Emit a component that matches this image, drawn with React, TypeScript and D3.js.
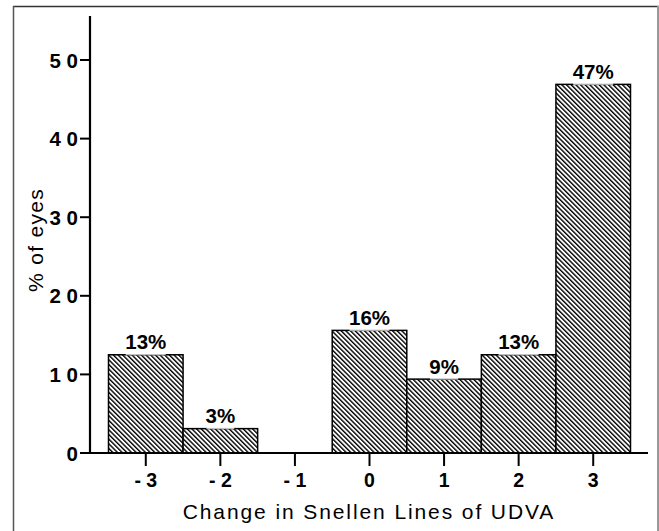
import React from "react";
import * as d3 from "d3";

const categories = ["-3", "-2", "-1", "0", "1", "2", "3"];
const tickLabels = ["- 3", "- 2", "- 1", "0", "1", "2", "3"];
const values = [12.5, 3.1, 0, 15.6, 9.4, 12.5, 46.9];
const valueLabels = ["13%", "3%", "", "16%", "9%", "13%", "47%"];
const yTicks = [0, 10, 20, 30, 40, 50];
const yTickLabels = ["0", "1 0", "2 0", "3 0", "4 0", "5 0"];

const W = 659;
const H = 531;
const FONT = "'Liberation Sans', Arial, Helvetica, sans-serif";

export default function App() {
  const axisX = 90;
  const axisY = 453;
  const axisTop = 16;
  const axisRight = 648;

  const y = d3.scaleLinear().domain([0, 55.6]).range([axisY, axisTop]);
  const x = d3.scaleBand<string>().domain(categories).range([108.5, 630.5]).padding(0);

  const labelW = (s: string) => s.length * 12 + 4;

  return (
    <svg
      width={W}
      height={H}
      viewBox={`0 0 ${W} ${H}`}
      style={{ position: "absolute", left: 0, top: 0, background: "#fff" }}
    >
      <defs>
        <pattern
          id="hatch"
          patternUnits="userSpaceOnUse"
          width={3.3}
          height={10}
          patternTransform="rotate(-45)"
        >
          <rect x={0} y={0} width={3.3} height={10} fill="#fff" />
          <line x1={0.7} y1={0} x2={0.7} y2={10} stroke="#000" strokeWidth={1.4} />
        </pattern>
      </defs>
      <rect x={0} y={0} width={W} height={H} fill="#fff" />

      {/* frame */}
      <line x1={13} y1={6.5} x2={659} y2={6.5} stroke="#333" strokeWidth={1.5} />
      <line x1={13.5} y1={6} x2={13.5} y2={531} stroke="#555" strokeWidth={1.5} />
      <line x1={658} y1={6} x2={658} y2={531} stroke="#999" strokeWidth={2} />

      {/* bars */}
      {categories.map((c, i) =>
        values[i] > 0 ? (
          <rect
            key={c}
            x={x(c)!}
            y={y(values[i])}
            width={x.bandwidth()}
            height={axisY - y(values[i])}
            fill="url(#hatch)"
            stroke="#000"
            strokeWidth={1.5}
          />
        ) : null
      )}

      {/* value labels */}
      {categories.map((c, i) =>
        valueLabels[i] ? (
          <g key={"l" + c}>
            <rect
              x={x(c)! + x.bandwidth() / 2 - labelW(valueLabels[i]) / 2}
              y={y(values[i]) - 21}
              width={labelW(valueLabels[i])}
              height={21.5}
              fill="#fff"
              opacity={0.75}
            />
            <text
              x={x(c)! + x.bandwidth() / 2}
              y={y(values[i]) - 5.5}
              textAnchor="middle"
              fontFamily={FONT}
              fontWeight="bold"
              fontSize={20.5}
              fill="#000"
            >
              {valueLabels[i]}
            </text>
          </g>
        ) : null
      )}

      {/* y axis */}
      <line x1={axisX} y1={axisTop} x2={axisX} y2={axisY + 1} stroke="#000" strokeWidth={2.2} />
      {yTicks.map((t, i) => (
        <g key={"yt" + t}>
          <line x1={axisX - 10} y1={y(t)} x2={axisX} y2={y(t)} stroke="#000" strokeWidth={2} />
          <text
            x={axisX - 12}
            y={y(t) + 7.5}
            textAnchor="end"
            fontFamily={FONT}
            fontWeight="bold"
            fontSize={20.5}
            fill="#000"
          >
            {yTickLabels[i]}
          </text>
        </g>
      ))}

      {/* x axis */}
      <line x1={axisX - 1} y1={axisY} x2={axisRight} y2={axisY} stroke="#000" strokeWidth={2.2} />
      {categories.map((c, i) => {
        const cx = x(c)! + x.bandwidth() / 2;
        return (
          <g key={"xt" + c}>
            <line x1={cx} y1={axisY} x2={cx} y2={axisY + 13} stroke="#000" strokeWidth={2} />
            <text
              x={cx}
              y={486.5}
              textAnchor="middle"
              fontFamily={FONT}
              fontWeight="bold"
              fontSize={19.5}
              fill="#000"
            >
              {tickLabels[i]}
            </text>
          </g>
        );
      })}

      {/* axis titles */}
      <text
        x={(axisX + axisRight) / 2}
        y={518.5}
        textAnchor="middle"
        fontFamily={FONT}
        fontSize={21}
        letterSpacing={1.9}
        fill="#000"
      >
        Change in Snellen Lines of UDVA
      </text>
      <text
        transform={`translate(43, 240) rotate(-90)`}
        textAnchor="middle"
        fontFamily={FONT}
        fontSize={21}
        letterSpacing={1.3}
        fill="#000"
      >
        % of eyes
      </text>
    </svg>
  );
}
